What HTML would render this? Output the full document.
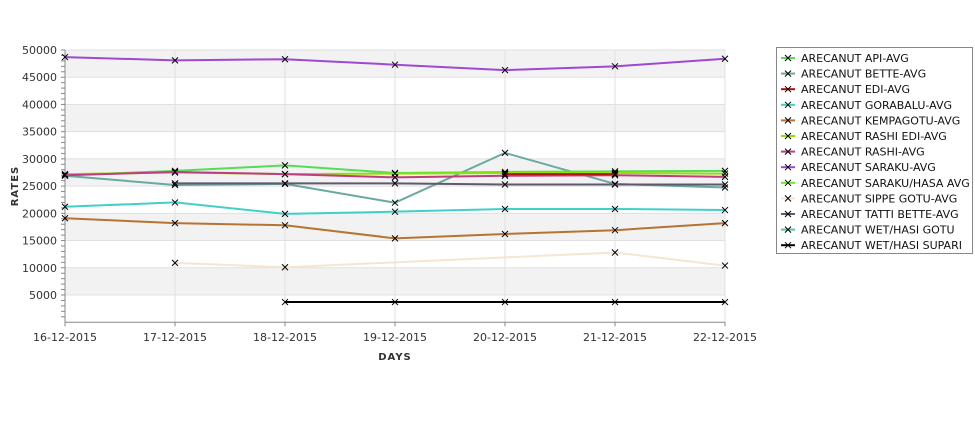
<!DOCTYPE html>
<html><head><meta charset="utf-8"><style>
body{margin:0;background:#fff;font-family:"Liberation Sans","DejaVu Sans",sans-serif;}
svg text{font-family:"DejaVu Sans","Liberation Sans",sans-serif;}
</style></head><body>
<svg id="c" width="975" height="429" xmlns="http://www.w3.org/2000/svg"></svg>
<script>
const categories=["16-12-2015","17-12-2015","18-12-2015","19-12-2015","20-12-2015","21-12-2015","22-12-2015"];
const yTicks=[5000,10000,15000,20000,25000,30000,35000,40000,45000,50000];
const seriesNames=["ARECANUT API-AVG","ARECANUT BETTE-AVG","ARECANUT EDI-AVG","ARECANUT GORABALU-AVG","ARECANUT KEMPAGOTU-AVG","ARECANUT RASHI EDI-AVG","ARECANUT RASHI-AVG","ARECANUT SARAKU-AVG","ARECANUT SARAKU/HASA AVG","ARECANUT SIPPE GOTU-AVG","ARECANUT TATTI BETTE-AVG","ARECANUT WET/HASI GOTU","ARECANUT WET/HASI SUPARI"];
const seriesColors=["#55dd55","#6aa9a0","#b01010","#40d0c8","#b87333","#90e000","#c03c80","#a048d0","#66ee22","#f5e6d3","#605870","#50c8a0","#000000"];
const apiAvg=[27000,27800,28800,27400,27600,27700,27800];
const betteAvg=[26900,25200,25400,21950,31100,25400,24750];
const ediAvg=[null,null,null,null,27200,27200,null];
const gorabaluAvg=[21200,22000,19900,20300,20800,20800,20600];
const kempagotuAvg=[19100,18200,17800,15400,16200,16900,18200];
const rashiEdiAvg=[27200,27500,27200,27300,27400,27400,27300];
const rashiAvg=[27000,27600,27200,26600,26900,27000,26700];
const sarakuAvg=[48700,48100,48300,47300,46300,47000,48400];
const sarakuHasaAvg=[null,null,null,null,null,null,null];
const sippeGotuAvg=[null,10900,10100,null,null,12800,10400];
const tattiBetteAvg=[null,25500,25500,25500,25300,25300,25300];
const wetHasiGotu=[null,null,null,null,null,null,null];
const wetHasiSupari=[null,null,3700,3700,3700,3700,3700];
const allSeries=[apiAvg,betteAvg,ediAvg,gorabaluAvg,kempagotuAvg,rashiEdiAvg,rashiAvg,sarakuAvg,sarakuHasaAvg,sippeGotuAvg,tattiBetteAvg,wetHasiGotu,wetHasiSupari];
const drawOrder=[9,4,3,1,10,0,5,6,2,8,7,11,12];

const svg=document.getElementById('c');const NS="http://www.w3.org/2000/svg";
const L=65,R=725,T=50,B=322.2,YMAX=50000;
const xS=i=>L+i*(R-L)/(categories.length-1);
const yS=v=>B-v*(B-T)/YMAX;
function mk(t,a,p){const e=document.createElementNS(NS,t);for(const k in a)e.setAttribute(k,a[k]);(p||svg).appendChild(e);return e;}
// bands
for(let v=0;v<YMAX;v+=5000){if((v/5000)%2===1){const r=mk('rect',{x:L,y:yS(v+5000),width:R-L,height:yS(v)-yS(v+5000),fill:'#f2f2f2'});

}}
yTicks.forEach(v=>{const l=mk('line',{x1:L,x2:R,y1:yS(v),y2:yS(v),stroke:'#e0e0e0'});


const t=mk('text',{x:L-8,y:yS(v)+4,'text-anchor':'end','font-size':11,fill:'#333'});t.textContent=v;

});
for(let v=1000;v<=YMAX;v+=1000){mk('line',{x1:L-4,x2:L,y1:yS(v),y2:yS(v),stroke:'#888'});}
categories.forEach((c,i)=>{const l=mk('line',{x1:xS(i),x2:xS(i),y1:T,y2:B,stroke:'#e0e0e0'});


mk('line',{x1:xS(i),x2:xS(i),y1:B,y2:B+4,stroke:'#888'});
const t=mk('text',{x:xS(i),y:B+19,'text-anchor':'middle','font-size':11,fill:'#333'});t.textContent=c;

});
mk('line',{x1:L,x2:L,y1:T,y2:B,stroke:'#888'});mk('line',{x1:L,x2:R,y1:B,y2:B,stroke:'#888'});
let yt=mk('text',{x:18,y:186,'text-anchor':'middle','font-size':10,'font-weight':'bold',fill:'#333',transform:'rotate(-90 18 186)','letter-spacing':'1'});yt.textContent='RATES';


let xt=mk('text',{x:395,y:360,'text-anchor':'middle','font-size':10,'font-weight':'bold',fill:'#333','letter-spacing':'1'});xt.textContent='DAYS';


function cross(x,y,col,p){mk('path',{d:`M${x-3} ${y-3}L${x+3} ${y+3}M${x-3} ${y+3}L${x+3} ${y-3}`,stroke:col,'stroke-width':1},p);}
drawOrder.forEach(si=>{const d=allSeries[si];const g=mk('g',{});


const pts=[];d.forEach((v,i)=>{if(v!==null)pts.push([xS(i),yS(v)]);});
if(pts.length>1)mk('polyline',{points:pts.map(p=>p.join(',')).join(' '),fill:'none',stroke:seriesColors[si],'stroke-width':2},g);
pts.forEach(p=>cross(p[0],p[1],'#000',g));});
// legend
const lg=mk('g',{});


mk('rect',{x:776.5,y:47.5,width:196,height:206,fill:'#fff',stroke:'#888'},lg);
seriesNames.forEach((n,i)=>{const y=58+i*15.6;const e=mk('g',{},lg);


mk('line',{x1:781,x2:795,y1:y,y2:y,stroke:seriesColors[i],'stroke-width':2},e);cross(788,y,'#000',e);
const t=mk('text',{x:801,y:y+4,'font-size':11,fill:'#111'},e);t.textContent=n;});
</script>
</body></html>
